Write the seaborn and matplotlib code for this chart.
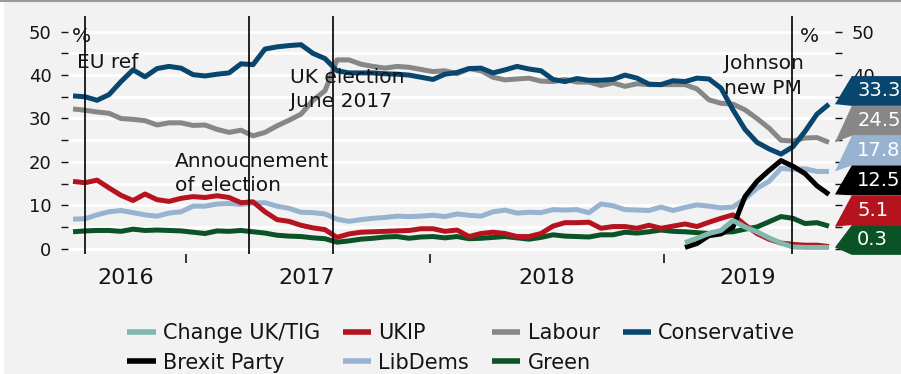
import numpy as np
import pandas as pd
import matplotlib
matplotlib.use("Agg")
import matplotlib.pyplot as plt
import seaborn as sns
from matplotlib.lines import Line2D
from matplotlib.patches import Polygon, Rectangle

nan = np.nan

# ---------------- data (poll index = sample position) ----------------
poll_index = list(range(64))

conservative = [35.2, 35.0, 34.2, 35.5, 38.5, 41.2, 39.6, 41.5, 42.0, 41.6, 40.1, 39.8, 40.2, 40.5, 42.6, 42.4,
                46.0, 46.5, 46.8, 47.0, 45.0, 43.8, 41.0, 40.5, 40.5, 40.5, 40.3, 40.2, 40.0, 39.5, 39.0, 40.2,
                40.6, 41.5, 41.6, 40.5, 41.2, 42.0, 41.4, 41.0, 39.0, 38.5, 39.2, 38.8, 38.8, 39.0, 40.0, 39.3,
                37.9, 37.8, 38.7, 38.5, 39.3, 39.1, 37.0, 32.0, 27.5, 24.5, 23.0, 21.8, 23.5, 27.0, 31.0, 33.3]

labour = [32.2, 31.9, 31.5, 31.2, 30.0, 29.8, 29.5, 28.5, 29.0, 29.0, 28.4, 28.5, 27.5, 26.8, 27.3, 26.0,
          26.8, 28.3, 29.6, 31.0, 34.2, 36.4, 43.5, 43.5, 42.5, 42.0, 41.6, 42.0, 41.8, 41.3, 40.8, 41.0,
          40.3, 41.5, 41.0, 39.5, 38.9, 39.1, 39.3, 38.6, 38.5, 39.0, 38.4, 38.4, 37.6, 38.2, 37.4, 38.0,
          37.8, 37.8, 37.8, 37.8, 36.8, 34.3, 33.5, 33.3, 32.0, 30.0, 27.8, 25.0, 24.8, 25.5, 25.6, 24.5]

ukip = [15.5, 15.2, 15.8, 14.0, 12.3, 11.1, 12.6, 11.3, 10.9, 11.6, 12.0, 11.8, 12.2, 11.8, 10.6, 10.8,
        8.5, 6.7, 6.3, 5.4, 4.8, 4.4, 2.6, 3.4, 3.8, 3.9, 4.0, 4.1, 4.2, 4.6, 4.6, 4.0,
        4.3, 2.8, 3.5, 3.8, 3.5, 2.8, 2.8, 3.5, 5.2, 6.0, 6.0, 6.1, 4.7, 5.1, 5.1, 4.7,
        5.4, 4.7, 5.2, 5.7, 5.1, 6.1, 7.0, 7.8, 5.5, 3.5, 2.2, 1.3, 1.0, 0.8, 0.8, 0.5]

libdems = [6.8, 6.9, 7.8, 8.5, 8.8, 8.3, 7.8, 7.5, 8.2, 8.5, 9.8, 9.8, 10.3, 10.4, 10.2, 10.5,
           10.6, 9.8, 9.3, 8.4, 8.3, 8.0, 6.8, 6.3, 6.7, 7.0, 7.2, 7.5, 7.4, 7.5, 7.7, 7.4,
           8.0, 7.7, 7.5, 8.5, 8.9, 8.2, 8.4, 8.3, 9.0, 8.9, 9.0, 8.3, 10.3, 9.9, 9.0, 8.9,
           8.8, 9.6, 8.8, 9.5, 10.1, 9.8, 9.4, 9.6, 11.5, 13.9, 15.5, 18.5, 18.3, 18.4, 17.8, 17.8]

green = [3.9, 4.1, 4.2, 4.2, 4.0, 4.5, 4.2, 4.3, 4.2, 4.1, 3.8, 3.5, 4.1, 4.0, 4.2, 3.9,
         3.6, 3.1, 2.9, 2.8, 2.5, 2.3, 1.5, 1.8, 2.2, 2.4, 2.7, 2.8, 2.4, 2.7, 2.8, 2.5,
         2.8, 2.3, 2.4, 2.6, 2.8, 2.5, 2.2, 2.6, 3.2, 2.9, 2.8, 2.7, 3.2, 3.2, 3.8, 3.6,
         3.9, 4.3, 4.0, 3.9, 3.7, 3.5, 3.8, 3.9, 4.5, 5.0, 6.2, 7.4, 7.0, 5.8, 6.0, 5.2]

brexit_party = [nan] * 51 + [0.3, 1.2, 3.0, 3.4, 5.0, 12.0, 15.5, 18.0, 20.3, 19.0, 17.3, 14.5, 12.5]

change_uk = [nan] * 51 + [1.4, 2.4, 3.5, 4.2, 6.5, 5.0, 3.9, 2.5, 1.3, 0.4, 0.3, 0.3, 0.3]

year_labels = ["2016", "2017", "2018", "2019"]
year_label_pos = [4.42, 19.5, 39.5, 56.25]
year_boundaries = [9.42, 29.75, 49.25]
event_pos = [1.0, 14.67, 21.67, 59.9]

y_ticks = [0, 10, 20, 30, 40, 50]
y_tick_labels = ["0", "10", "20", "30", "40", "50"]
right_tick_labels = ["", "", "", "", "40", "50"]   # the rest sit hidden behind the value flags

end_values = [33.3, 24.5, 17.8, 12.5, 5.1, 0.3]
end_labels = ["33.3", "24.5", "17.8", "12.5", "5.1", "0.3"]

colors = {
    "Change UK/TIG": "#80b8ae",
    "UKIP": "#b5141e",
    "Labour": "#878787",
    "Conservative": "#08466e",
    "Brexit Party": "#000000",
    "LibDems": "#97b3cf",
    "Green": "#0b5227",
}
end_colors = ["#08466e", "#878787", "#97b3cf", "#000000", "#b5141e", "#0b5227"]

series = {
    "Green": green,
    "LibDems": libdems,
    "UKIP": ukip,
    "Labour": labour,
    "Conservative": conservative,
    "Brexit Party": brexit_party,
    "Change UK/TIG": change_uk,
}
draw_order = ["Green", "LibDems", "UKIP", "Labour", "Conservative", "Brexit Party", "Change UK/TIG"]

frames = []
for name in draw_order:
    frames.append(pd.DataFrame({"idx": poll_index, "value": series[name], "party": name}))
df = pd.concat(frames, ignore_index=True).dropna()

# ---------------- figure ----------------
BG = "#f2f2f2"
plt.rcParams["font.family"] = ["DejaVu Sans"]
plt.rcParams["text.color"] = "#141414"

fig = plt.figure(figsize=(9.01, 3.74), dpi=100, facecolor=BG)
ax = fig.add_axes([0.0755, 0.3211, 0.8512, 0.6348])
ax.set_facecolor(BG)

YLIM = (-1.2, 53.5)
ax.set_ylim(*YLIM)
ax.set_xlim(-0.417, 63.5)

# white grid lines
for gy in range(0, 51, 5):
    ax.axhline(gy, color="white", lw=2.0, zorder=0.5)

sns.lineplot(data=df, x="idx", y="value", hue="party", hue_order=draw_order,
             palette=colors, linewidth=3.6, legend=False, ax=ax, zorder=2,
             estimator=None, sort=False)
for ln in ax.lines:
    ln.set_solid_capstyle("butt")
    ln.set_solid_joinstyle("round")

for ex in event_pos:
    ax.axvline(ex, color="black", lw=1.2, zorder=3)

for s in ax.spines.values():
    s.set_visible(False)

# y ticks on both sides
ax.set_yticks(y_ticks)
ax.set_yticklabels(y_tick_labels)
ax.set_yticks(range(5, 50, 10), minor=True)
ax.tick_params(axis="y", which="both", left=True, right=True, labelleft=True, labelright=True,
               length=5, width=1.0, color="#141414", labelsize=13, pad=7, direction="out",
               labelcolor="#141414")
for t, lab in zip(ax.yaxis.get_major_ticks(), right_tick_labels):
    t.label2.set_text(lab)
    if lab == "":
        t.label2.set_visible(False)

# x ticks: year boundaries (marks) and year labels (centred)
ax.set_xticks(year_boundaries)
ax.set_xticklabels([""] * len(year_boundaries))
ax.set_xticks(year_label_pos, minor=True)
ax.set_xticklabels(year_labels, minor=True)
ax.tick_params(axis="x", which="major", length=6.5, width=1.2, color="#141414", direction="out")
ax.tick_params(axis="x", which="minor", length=0, labelsize=16, pad=10.5, labelcolor="#141414")
ax.set_xlabel("")
ax.set_ylabel("")

# annotations
afs = 14.5
ax.text(-0.08, 47.6, "%", fontsize=afs, va="baseline", ha="left", zorder=4)
ax.text(60.58, 47.6, "%", fontsize=afs, va="baseline", ha="left", zorder=4)
ax.text(0.33, 41.6, "EU ref", fontsize=afs, va="baseline", ha="left", zorder=4)
ax.text(8.5, 18.8, "Annoucnement", fontsize=afs, va="baseline", ha="left", zorder=4)
ax.text(8.5, 13.3, "of election", fontsize=afs, va="baseline", ha="left", zorder=4)
ax.text(18.1, 38.2, "UK election", fontsize=afs, va="baseline", ha="left", zorder=4)
ax.text(18.1, 32.6, "June 2017", fontsize=afs, va="baseline", ha="left", zorder=4)
ax.text(54.25, 41.4, "Johnson", fontsize=afs, va="baseline", ha="left", zorder=4)
ax.text(54.25, 35.6, "new PM", fontsize=afs, va="baseline", ha="left", zorder=4)

# end-value flags on the right
box_top0 = 0.749
box_h = 0.1255
box_left = 1.022
box_right = 1.15
for i, (v, lab, col) in enumerate(zip(end_values, end_labels, end_colors)):
    top = box_top0 - i * box_h
    bot = top - box_h
    tip = (v - YLIM[0]) / (YLIM[1] - YLIM[0])
    poly = Polygon([(1.0, tip), (box_left, top), (box_right, top), (box_right, bot), (box_left, bot)],
                   closed=True, transform=ax.transAxes, facecolor=col, edgecolor="none",
                   clip_on=False, zorder=6)
    ax.add_patch(poly)
    ax.text(1.029, (top + bot) / 2, lab, transform=ax.transAxes, color="white", fontsize=14,
            va="center", ha="left", zorder=7, clip_on=False)

# legend
legend_order = ["Change UK/TIG", "Brexit Party", "UKIP", "LibDems", "Labour", "Green", "Conservative"]
handles = [Line2D([0], [0], color=colors[n], lw=4, solid_capstyle="butt") for n in legend_order]
fig.legend(handles, legend_order, ncol=4, loc="center", bbox_to_anchor=(0.512, 0.07),
           frameon=False, fontsize=15, handlelength=1.35, handletextpad=0.35,
           columnspacing=1.1, labelspacing=0.45, borderaxespad=0, borderpad=0)

# frame decorations
fig.add_artist(Line2D([0, 1], [0.998, 0.998], transform=fig.transFigure, color="#9a9a9a", lw=1.5))
fig.add_artist(Rectangle((0, 0), 0.0045, 1, transform=fig.transFigure, facecolor="white",
                         edgecolor="none"))

fig.savefig("out.png", dpi=100, facecolor=BG)
